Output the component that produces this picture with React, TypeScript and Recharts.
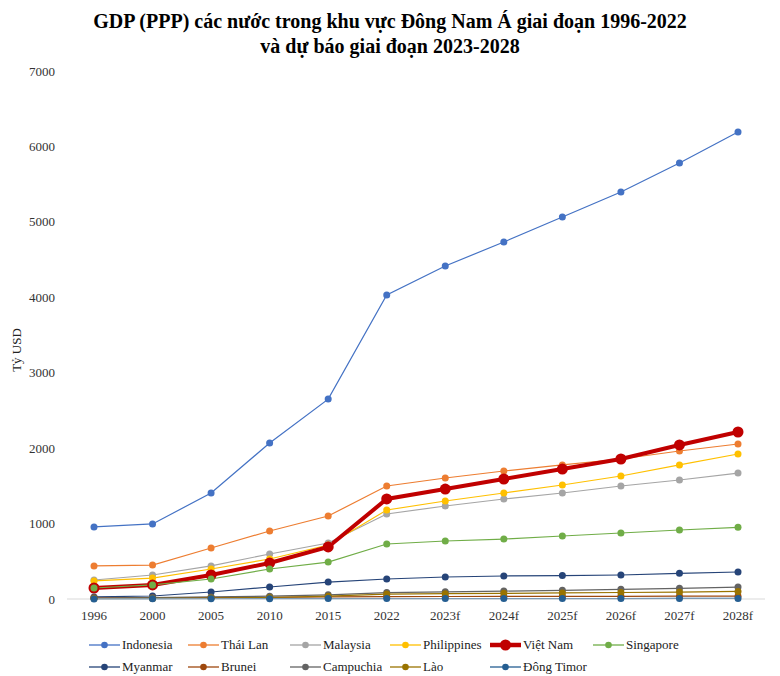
import { LineChart, Line, XAxis, YAxis } from "recharts";

const years = ["1996", "2000", "2005", "2010", "2015", "2022", "2023f", "2024f", "2025f", "2026f", "2027f", "2028f"];

const indonesia = [955, 995, 1405, 2068, 2650, 4030, 4415, 4733, 5064, 5396, 5780, 6191];
const thaiLan = [438, 450, 676, 901, 1100, 1498, 1604, 1697, 1777, 1856, 1962, 2055];
const malaysia = [252, 318, 438, 597, 742, 1127, 1233, 1326, 1405, 1498, 1578, 1670];
const philippines = [239, 278, 398, 530, 716, 1180, 1299, 1405, 1511, 1631, 1777, 1922];
const vietNam = [146, 186, 318, 477, 690, 1326, 1458, 1591, 1723, 1856, 2042, 2214];
const singapore = [146, 186, 265, 398, 490, 729, 769, 795, 835, 875, 915, 950];
const myanmar = [27, 40, 93, 159, 225, 265, 292, 305, 310, 318, 340, 358];
const brunei = [15, 17, 19, 22, 28, 32, 33, 34, 35, 36, 37, 38];
const campuchia = [12, 17, 27, 38, 55, 85, 95, 105, 115, 128, 142, 158];
const lao = [5, 8, 12, 20, 38, 65, 70, 75, 80, 86, 92, 100];
const dongTimor = [1, 2, 3, 4, 5, 5, 5, 6, 6, 6, 7, 7];

const yTicks = [0, 1000, 2000, 3000, 4000, 5000, 6000, 7000];

const series = [
  { key: "Indonesia", values: indonesia, color: "#4472C4" },
  { key: "Thái Lan", values: thaiLan, color: "#ED7D31" },
  { key: "Malaysia", values: malaysia, color: "#A5A5A5" },
  { key: "Philippines", values: philippines, color: "#FFC000" },
  { key: "Việt Nam", values: vietNam, color: "#C00000", bold: true },
  { key: "Singapore", values: singapore, color: "#70AD47" },
  { key: "Myanmar", values: myanmar, color: "#264478" },
  { key: "Brunei", values: brunei, color: "#9E480E" },
  { key: "Campuchia", values: campuchia, color: "#636363" },
  { key: "Lào", values: lao, color: "#997300" },
  { key: "Đông Timor", values: dongTimor, color: "#255E91" },
];

const data = years.map((year, i) => {
  const row: Record<string, string | number> = { year };
  series.forEach((s) => {
    row[s.key] = s.values[i];
  });
  return row;
});

const font = "'Liberation Serif', 'Times New Roman', Times, serif";
const legendLeft = [89, 188, 290, 390, 490, 593];

function LegendItem({ name, color, bold }: { name: string; color: string; bold?: boolean }) {
  return (
    <div style={{ display: "flex", alignItems: "center" }}>
      <svg width={31} height={14}>
        <line x1={0} y1={7} x2={31} y2={7} stroke={color} strokeWidth={bold ? 4.5 : 1.3} />
        <circle cx={15.5} cy={7} r={bold ? 5.5 : 3.3} fill={color} />
      </svg>
      <span style={{ marginLeft: 2, fontSize: 13, color: "#222", fontFamily: font }}>{name}</span>
    </div>
  );
}

export default function App() {
  return (
    <div
      style={{
        position: "absolute",
        left: 0,
        top: 0,
        width: 780,
        height: 676,
        background: "#fff",
        fontFamily: font,
        overflow: "hidden",
      }}
    >
      <LineChart
        width={780}
        height={676}
        data={data}
        margin={{ top: 71, right: 15, left: 0, bottom: 47 }}
        style={{ fontFamily: font }}
      >
        <XAxis
          dataKey="year"
          height={30}
          padding={{ left: 27, right: 27 }}
          tickLine={false}
          tickSize={0}
          tickMargin={12}
          axisLine={{ stroke: "#d9d9d9" }}
          tick={{ fontSize: 13, fill: "#333", style: { fontFamily: font } }}
          interval={0}
        />
        <YAxis
          width={67}
          domain={[0, 7000]}
          ticks={yTicks}
          axisLine={false}
          tickLine={false}
          tickSize={0}
          tickMargin={12}
          tick={{ fontSize: 13, fill: "#333", style: { fontFamily: font } }}
        />
        {series.map((s) => (
          <Line
            key={s.key}
            dataKey={s.key}
            stroke={s.color}
            strokeWidth={s.bold ? 4 : 1.2}
            dot={{ r: s.bold ? 5.5 : 3.5, fill: s.color, stroke: s.color, strokeWidth: 0 }}
            activeDot={false}
            isAnimationActive={false}
          />
        ))}
      </LineChart>

      <div
        style={{
          position: "absolute",
          left: 0,
          top: 9,
          width: 780,
          textAlign: "center",
          fontSize: 20,
          fontWeight: "bold",
          lineHeight: "25px",
          color: "#000",
          fontFamily: font,
        }}
      >
        GDP (PPP) các nước trong khu vực Đông Nam Á giai đoạn 1996-2022
        <br />
        và dự báo giai đoạn 2023-2028
      </div>

      <div
        style={{
          position: "absolute",
          left: 17,
          top: 350,
          transform: "translate(-50%, -50%) rotate(-90deg)",
          fontSize: 13,
          color: "#222",
          whiteSpace: "nowrap",
          fontFamily: font,
        }}
      >
        Tỷ USD
      </div>

      {series.map((s, i) => (
        <div
          key={s.key}
          style={{
            position: "absolute",
            left: legendLeft[i % 6],
            top: i < 6 ? 637 : 659,
          }}
        >
          <LegendItem name={s.key} color={s.color} bold={s.bold} />
        </div>
      ))}
    </div>
  );
}
